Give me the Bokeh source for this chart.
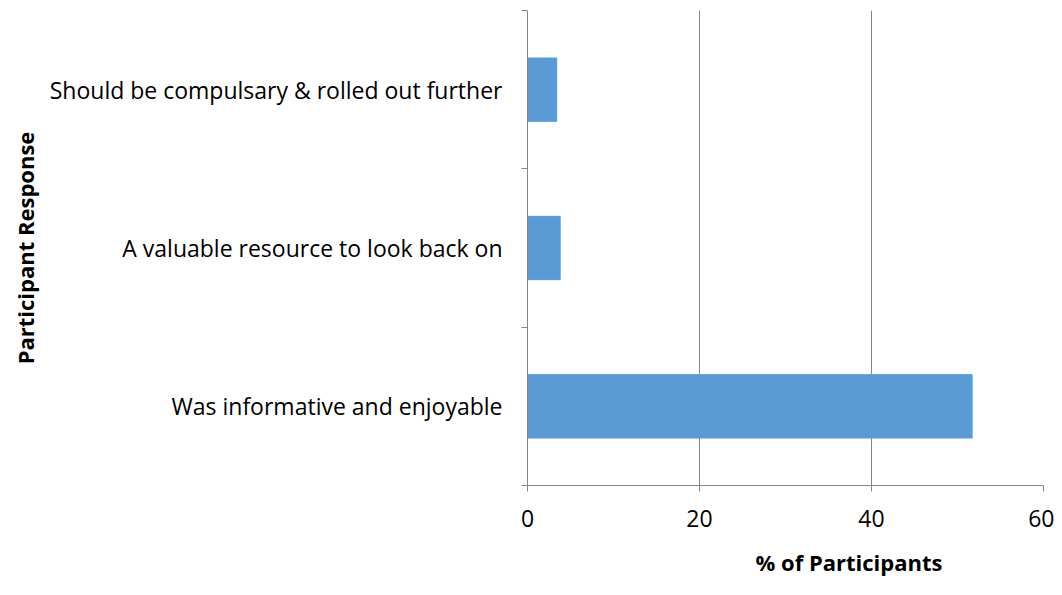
import math
from bokeh.plotting import figure
from bokeh.models import FixedTicker, Range1d, Title
from bokeh.embed import file_html
from bokeh.resources import INLINE

# Data (top-to-bottom order as shown)
categories = [
    "Should be compulsary & rolled out further",
    "A valuable resource to look back on",
    "Was informative and enjoyable",
]
values = [3.4, 3.8, 51.7]
x_ticks = [0, 20, 40, 60]
x_title = "% of Participants"
y_title = "Participant Response"

n = len(categories)
# numeric positions: bottom category at 0.5
ypos = [n - i - 0.5 for i in range(n)]

FONT = "Open Sans"
GRID = "#868686"

p = figure(width=1054, height=595, output_backend="svg", toolbar_location=None,
           x_range=Range1d(0, 60), y_range=Range1d(0, n),
           min_border_left=527, min_border_right=11, min_border_top=10,
           min_border_bottom=108)
p.outline_line_color = None
p.background_fill_color = "white"

p.hbar(y=ypos, right=values, left=0, height=0.4, fill_color="#5B9BD5",
       line_color="#5B9BD5")

# x axis
p.xaxis.ticker = FixedTicker(ticks=x_ticks)
p.xaxis.axis_line_color = GRID
p.xaxis.major_tick_line_color = GRID
p.xaxis.major_tick_out = 6
p.xaxis.major_tick_in = 0
p.xaxis.minor_tick_line_color = None
p.xaxis.major_label_text_font = FONT
p.xaxis.major_label_text_font_size = "23px"
p.xaxis.major_label_text_color = "#000000"
p.xaxis.major_label_standoff = 18

# y axis (boundary ticks as minor ticks)
p.yaxis.ticker = FixedTicker(ticks=ypos, minor_ticks=list(range(n + 1)))
p.yaxis.major_label_overrides = {y: c for y, c in zip(ypos, categories)}
p.yaxis.axis_line_color = GRID
p.yaxis.major_tick_line_color = None
p.yaxis.minor_tick_line_color = GRID
p.yaxis.minor_tick_out = 6
p.yaxis.minor_tick_in = 0
p.yaxis.major_label_text_font = FONT
p.yaxis.major_label_text_font_size = "23px"
p.yaxis.major_label_text_color = "#000000"
p.yaxis.major_label_standoff = 19

p.xgrid.ticker = FixedTicker(ticks=x_ticks)
p.xgrid.grid_line_color = GRID
p.ygrid.grid_line_color = None

p.add_layout(Title(text=y_title, align="center", standoff=13,
                   text_font=FONT, text_font_size="22px", text_font_style="bold",
                   text_color="#000000"), "left")
p.add_layout(Title(text=x_title, align="left", offset=228, standoff=34,
                   vertical_align="top",
                   text_font=FONT, text_font_size="22px", text_font_style="bold",
                   text_color="#000000"), "below")

open("out.html", "w").write(file_html(p, INLINE))
